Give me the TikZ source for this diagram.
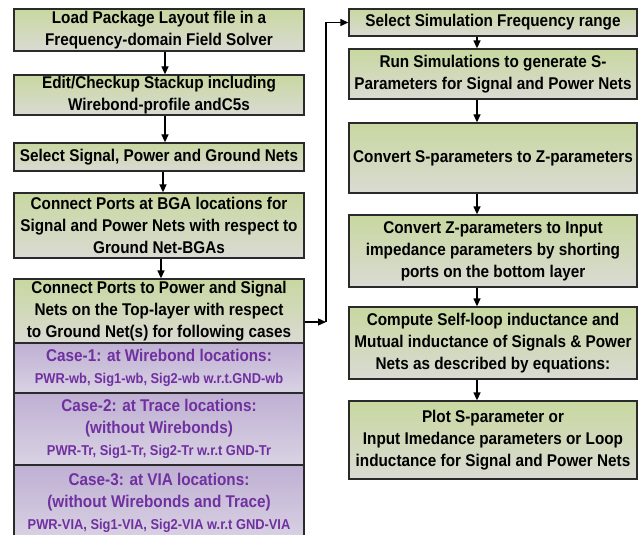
\documentclass[tikz,border=0pt]{standalone}
\usepackage{fontspec}
\setmainfont{Liberation Sans}[FakeStretch=0.9]
\usetikzlibrary{arrows.meta}

\definecolor{gtop}{HTML}{C8D8A0}
\definecolor{gbot}{HTML}{DADAD3}
\definecolor{ptop}{HTML}{BFB0D3}
\definecolor{pbot}{HTML}{D9D2E3}
\definecolor{ptext}{HTML}{7030A0}
\definecolor{edge}{HTML}{2A2A2A}

\tikzset{
  flowbox/.style={draw=edge, line width=1.3pt, top color=gtop, bottom color=gbot,
    align=center, inner sep=0pt, minimum width=290pt,
    font=\bfseries\fontsize{17}{22}\selectfont},
  rbox/.style={flowbox, minimum width=288pt},
  casebox/.style={flowbox, top color=ptop, bottom color=pbot, text=ptext},
  arr/.style={draw=black, line width=1.3pt, -{Triangle[length=8pt,width=7pt]}},
}
\newcommand{\subsize}{\fontsize{14.3}{21}\selectfont}

\begin{document}
\begin{tikzpicture}[x=1pt, y=-1pt]
\useasboundingbox (0,0) rectangle (641,535);

% left column
\node[flowbox, minimum height=42pt] (L1) at (159,30)
  {Load Package Layout file in a\\Frequency-domain Field Solver};
\node[flowbox, minimum height=40pt] (L2) at (159,95)
  {Edit/Checkup Stackup including\\Wirebond-profile andC5s};
\node[flowbox, minimum height=28pt] (L3) at (159,157)
  {Select Signal, Power and Ground Nets};
\node[flowbox, minimum height=65pt] (L4) at (159,225.5)
  {Connect Ports at BGA locations for\\Signal and Power Nets with respect to\\Ground Net-BGAs};
\node[flowbox, minimum height=64pt] (L5) at (159,311)
  {Connect Ports to Power and Signal\\Nets on the Top-layer with respect\\to Ground Net(s) for following cases};

% case boxes under the last step
\node[casebox, minimum height=50pt] (C1) at (159,368)
  {Case-1: at Wirebond locations:\\{\subsize PWR-wb, Sig1-wb, Sig2-wb w.r.t.GND-wb}};
\node[casebox, minimum height=72pt] (C2) at (159,429)
  {Case-2: at Trace locations:\\(without Wirebonds)\\{\subsize PWR-Tr, Sig1-Tr, Sig2-Tr w.r.t GND-Tr}};
\node[casebox, minimum height=76pt] (C3) at (159,503)
  {Case-3: at VIA locations:\\(without Wirebonds and Trace)\\{\subsize PWR-VIA, Sig1-VIA, Sig2-VIA w.r.t GND-VIA}};

% right column
\node[rbox, minimum height=27pt] (R1) at (493,22.5)
  {Select Simulation Frequency range};
\node[rbox, minimum height=50pt] (R2) at (493,74)
  {Run Simulations to generate S-\\Parameters for Signal and Power Nets};
\node[rbox, minimum height=70pt] (R3) at (493,158)
  {Convert S-parameters to Z-parameters};
\node[rbox, minimum height=72pt] (R4) at (493,251)
  {Convert Z-parameters to Input\\impedance parameters by shorting\\ports on the bottom layer};
\node[rbox, minimum height=72pt] (R5) at (493,343)
  {Compute Self-loop inductance and\\Mutual inductance of Signals \& Power\\Nets as described by equations:};
\node[rbox, minimum height=78pt] (R6) at (493,440)
  {Plot S-parameter or\\Input Imedance parameters or Loop\\inductance for Signal and Power Nets};

% connectors, left column
\draw[arr] ([xshift=6pt]L1.south) -- ([xshift=6pt]L2.north);
\draw[arr] ([xshift=6pt]L2.south) -- ([xshift=6pt]L3.north);
\draw[arr] ([xshift=4pt]L3.south) -- ([xshift=4pt]L4.north);
\draw[arr] ([xshift=2pt]L4.south) -- ([xshift=2pt]L5.north);

% connector from the left column to the right column
\coordinate (turn) at (326,322);
\draw[arr] ([yshift=-11pt]L5.east) -- (turn);
\draw[arr] (turn) |- (R1.west);

% connectors, right column
\draw[arr] ([xshift=-16pt]R1.south) -- ([xshift=-16pt]R2.north);
\draw[arr] ([xshift=-16pt]R2.south) -- ([xshift=-16pt]R3.north);
\draw[arr] ([xshift=-16pt]R3.south) -- ([xshift=-16pt]R4.north);
\draw[arr] ([xshift=-16pt]R4.south) -- ([xshift=-16pt]R5.north);
\draw[arr] ([xshift=-16pt]R5.south) -- ([xshift=-16pt]R6.north);
\end{tikzpicture}
\end{document}
